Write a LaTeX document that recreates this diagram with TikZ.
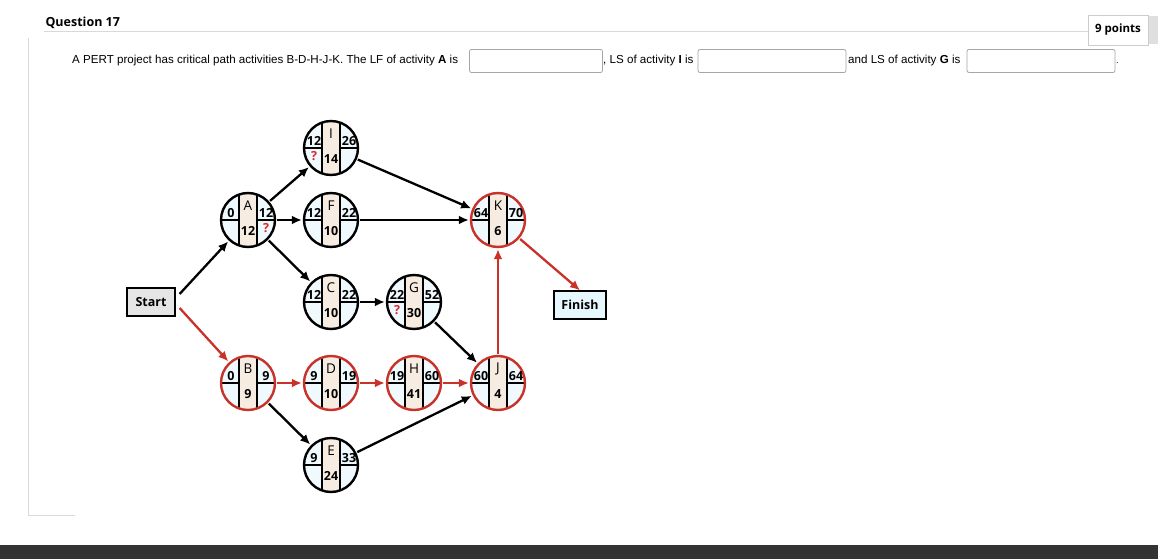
\documentclass[tikz,border=0pt]{standalone}
\usepackage{fontspec}
\setmainfont{Liberation Sans}
\newfontfamily\nf{Open Sans}
\usetikzlibrary{arrows.meta}
\begin{document}
\begin{tikzpicture}[x=1pt,y=-1pt,
 ab/.style={-{Latex[length=10pt,width=9pt]},line width=2.3pt},
 cr/.style={ab,draw={rgb,255:red,200;green,50;blue,40}},
 num/.style={font=\nf\bfseries\fontsize{12.5}{12.5}\selectfont,inner sep=0},
 qm/.style={num,text={rgb,255:red,220;green,40;blue,40}},
 ansbox/.style={draw=gray!70,line width=0.8pt,rounded corners=2pt,minimum height=23pt,inner sep=0}]
\useasboundingbox (0,0) rectangle (1158,559);
\fill[white] (0,0) rectangle (1158,559);
\draw[gray!30,line width=1pt] (28,38) -- (28,515) -- (75,515);
\fill[black!80] (0,545) rectangle (1158,559);
\node[anchor=west,font=\nf\bfseries\fontsize{12.5}{14}\selectfont] (q) at (42,23) {Question 17};
\draw[gray!30,line width=1pt] (44,32) -- (1090,32);
\node[draw=gray!40,fill=white,minimum width=60pt,minimum height=30pt,font=\nf\bfseries\fontsize{11.5}{13}\selectfont] (pts) at (1118,30) {9 points};
\fill[gray!25] (1149,16) rectangle (1158,44);
\node[anchor=west,font=\fontsize{11.6}{13}\selectfont,inner sep=0] (t1) at (72,61) {A PERT project has critical path activities B-D-H-J-K. The LF of activity \textbf{A} is};
\node[ansbox,minimum width=133pt] (b1) at (536,61) {};
\node[anchor=west,font=\fontsize{11.6}{13}\selectfont,inner sep=0] (t2) at (603,61) {, LS of activity \textbf{I} is};
\node[ansbox,minimum width=148pt] (b2) at (772,61) {};
\node[anchor=west,font=\fontsize{11.6}{13}\selectfont,inner sep=0] (t3) at (848,61) {and LS of activity \textbf{G} is};
\node[ansbox,minimum width=148pt] (b3) at (1041,61) {};
\node[anchor=west,inner sep=0,font=\small] (t4) at (1116,63) {.};
\newcommand{\pert}[9]{%
 \begin{scope}[shift={(#2,#3)}]
  \fill[cyan!6] (0,0) circle (27);
  \fill[brown!15] (-9,-26) rectangle (9,26);
  \draw[line width=1.6pt] (-9,-25.4) -- (-9,25.4) (9,-25.4) -- (9,25.4) (-27,0) -- (-9,0) (9,0) -- (27,0);
  \draw[line width=2.4pt,draw=#9] (0,0) circle (27);
  \node[num] at (0,-14) {\fontseries{m}\fontsize{13.5}{13.5}\selectfont #1};
  \node[num] at (-17,-7) {#4};
  \node[num] at (18,-7) {#5};
  \node[num] at (0,11) {#6};
  \node[qm] at (-17,8) {#7};
  \node[qm] at (18,8) {#8};
 \end{scope}
 \node[circle,minimum size=58pt,inner sep=0] (#1) at (#2,#3) {};}
\definecolor{redc}{RGB}{200,50,40}
\pert{I}{331}{148}{12}{26}{14}{?}{}{black}
\pert{A}{248}{220}{0}{12}{12}{}{?}{black}
\pert{F}{331}{220}{12}{22}{10}{}{}{black}
\pert{K}{498}{220}{64}{70}{6}{}{}{redc}
\pert{C}{331}{302}{12}{22}{10}{}{}{black}
\pert{G}{414}{302}{22}{52}{30}{?}{}{black}
\pert{B}{248}{383}{0}{9}{9}{}{}{redc}
\pert{D}{331}{383}{9}{19}{10}{}{}{redc}
\pert{H}{414}{383}{19}{60}{41}{}{}{redc}
\pert{J}{498}{383}{60}{64}{4}{}{}{redc}
\pert{E}{331}{465}{9}{33}{24}{}{}{black}
\node[draw,line width=1.2pt,fill=gray!20,minimum width=48pt,minimum height=28pt,font=\nf\bfseries\fontsize{12.5}{14}\selectfont] (S) at (151,302) {Start};
\node[draw,line width=1.2pt,fill=cyan!10,minimum width=52pt,minimum height=28pt,font=\nf\bfseries\fontsize{12.5}{14}\selectfont] (Fi) at (580,305) {Finish};
\draw[ab] (S.east) ++(4,-8) coordinate (s1) -- (A);
\draw[cr] (S.east) ++(4,6) coordinate (s2) -- (B);
\draw[ab] (A) -- (I);
\draw[ab] (A) -- (F);
\draw[ab] (A) -- (C);
\draw[ab] (I) -- (K);
\draw[ab] (F) -- (K);
\draw[ab] (C) -- (G);
\draw[ab] (G) -- (J);
\draw[cr] (B) -- (D);
\draw[cr] (D) -- (H);
\draw[cr] (H) -- (J);
\draw[ab] (B) -- (E);
\draw[ab] (E) -- (J);
\draw[cr] (J) -- (K);
\draw[cr] (K) -- (Fi.north);
\end{tikzpicture}
\end{document}
